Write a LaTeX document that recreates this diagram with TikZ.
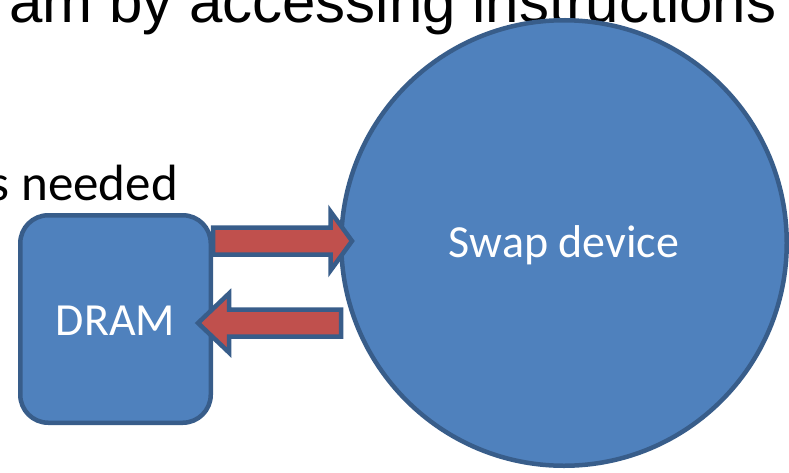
\documentclass[tikz,border=0pt]{standalone}
\usepackage{fontspec}
\usetikzlibrary{calc}
\setmainfont{Liberation Sans}
\newfontfamily\calibri{Carlito}
\definecolor{unitfill}{HTML}{4F81BD}
\definecolor{unitline}{HTML}{385D8A}
\definecolor{flowfill}{HTML}{C0504D}

\begin{document}
\begin{tikzpicture}[x=1pt,y=-1pt,
  unit/.style={fill=unitfill, draw=unitline, line width=4.5pt, inner sep=0pt},
  unitlabel/.style={font=\calibri\fontsize{46}{46}\selectfont, text=white, inner sep=0pt, anchor=base},
  flow/.style={fill=flowfill, draw=unitline, line width=4.5pt, line join=miter, miter limit=10}]
\useasboundingbox (0,0) rectangle (789,472);

% slide text
\node[anchor=base west, inner sep=0pt, font=\fontsize{60}{60}\selectfont] (title) at (9,22) {am by accessing instructions};
\node[anchor=base east, inner sep=0pt, font=\calibri\fontsize{51}{51}\selectfont] (note) at (178,200) {s needed};

% storage units
\node[unit, circle, minimum size=445.5pt] (swap) at (564,243) {};
\node[unit, rectangle, rounded corners=28pt, minimum width=190.5pt, minimum height=207.5pt] (dram) at (115.5,319) {};
\node[unitlabel] (swaptext) at (swap.center |- 0,257) {Swap device};
\node[unitlabel] (dramtext) at (dram.center |- 0,335) {DRAM};

% page-out arrow (DRAM -> swap)
\coordinate (outtail) at (dram.east |- 0,241);
\coordinate (outtip) at (352,241);
\draw[flow] ($(outtail)+(0,-13.5)$) -- ++(117.5,0) -- ++(0,-16) -- (outtip)
  -- ++(-21.5,29.5) -- ++(0,-16) -- ($(outtail)+(0,13.5)$) -- cycle;

% page-in arrow (swap -> DRAM)
\coordinate (intip) at (198,323);
\coordinate (intail) at (341,323);
\draw[flow] (intip) -- ++(31,-29.5) -- ++(0,16) -- ($(intail)+(0,-13.5)$)
  -- ($(intail)+(0,13.5)$) -- ($(intip)+(31,13.5)$) -- ++(0,16) -- cycle;
\end{tikzpicture}
\end{document}
